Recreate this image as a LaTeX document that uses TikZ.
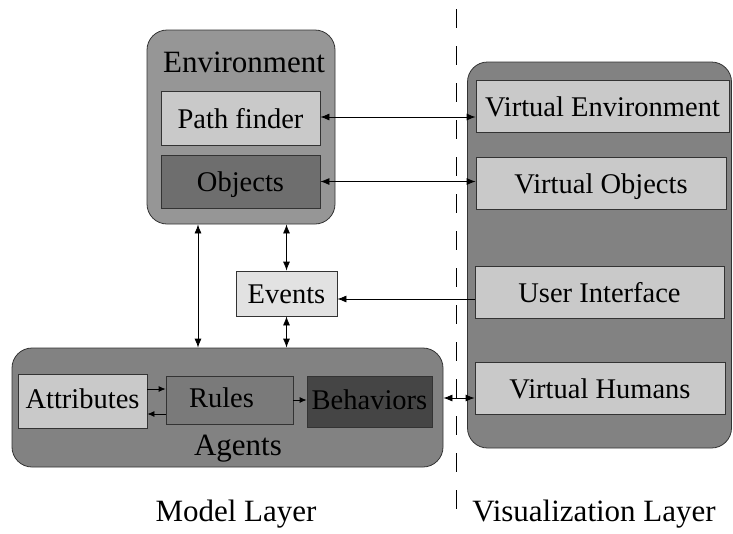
\documentclass[tikz,border=0pt]{standalone}
\usepackage{fontspec}
\setmainfont{Liberation Serif}
\usetikzlibrary{arrows.meta}
\definecolor{envgray}{HTML}{969696}
\definecolor{outgray}{HTML}{828282}
\definecolor{lightbox}{HTML}{C9C9C9}
\definecolor{objgray}{HTML}{6E6E6E}
\definecolor{rulegray}{HTML}{7A7A7A}
\definecolor{behgray}{HTML}{454545}
\definecolor{evgray}{HTML}{E2E2E2}
\definecolor{edgegray}{HTML}{333333}
\tikzset{
  outbox/.style={draw=edgegray, line width=0.8pt, rounded corners=20pt, inner sep=0pt},
  inbox/.style={draw=edgegray, line width=0.8pt, inner sep=0pt, text height=20pt, text depth=0pt, font=\fontsize{28.5}{34}\selectfont},
  agbox/.style={inbox, text height=15pt},
  biglabel/.style={inner sep=0pt, anchor=base, font=\fontsize{31}{36}\selectfont},
  conn/.style={line width=0.8pt, {Latex[length=9pt,width=7pt]}-{Latex[length=9pt,width=7pt]}},
  oneway/.style={line width=0.8pt, -{Latex[length=9pt,width=7pt]}},
  smallway/.style={line width=0.8pt, -{Latex[length=7pt,width=6pt]}},
}
\begin{document}
\begin{tikzpicture}[x=1pt,y=-1pt]
\useasboundingbox (0,0) rectangle (733,533);
% separator
\draw[line width=0.8pt, dash pattern=on 19pt off 18pt] (456,9) -- (456,520);
% environment
\node[outbox, fill=envgray, minimum width=188pt, minimum height=194pt] (env) at (241,127) {};
\node[biglabel] (envlabel) at (244,72) {Environment};
\node[inbox, fill=lightbox, minimum width=159pt, minimum height=54pt] (pf) at (240.5,118) {Path finder};
\node[inbox, fill=objgray, minimum width=159pt, minimum height=53pt] (obj) at (240.5,181.5) {Objects};
% visualization
\node[outbox, fill=outgray, minimum width=264pt, minimum height=386pt] (vis) at (599.5,255) {};
\node[inbox, fill=lightbox, minimum width=253pt, minimum height=52pt] (ve) at (602.5,106) {Virtual Environment};
\node[inbox, fill=lightbox, minimum width=250pt, minimum height=52pt] (vo) at (601,183) {Virtual Objects};
\node[inbox, fill=lightbox, minimum width=249pt, minimum height=52pt] (ui) at (599.5,292) {User Interface};
\node[inbox, fill=lightbox, minimum width=250pt, minimum height=52pt] (vh) at (600,388) {Virtual Humans};
% events
\node[inbox, fill=evgray, minimum width=101pt, minimum height=45pt] (ev) at (286.5,293.5) {Events};
% agents
\node[outbox, fill=outgray, minimum width=431pt, minimum height=119pt] (ag) at (227.5,407.5) {};
\node[biglabel] (aglabel) at (238,455) {Agents};
\node[agbox, fill=lightbox, minimum width=129pt, minimum height=54pt] (attr) at (82.5,401) {Attributes};
\node[agbox, fill=rulegray, minimum width=127pt, minimum height=48pt] (rules) at (229.5,400) {\hspace*{-16pt}Rules};
\node[agbox, fill=behgray, minimum width=125pt, minimum height=51pt] (beh) at (369.5,401.5) {Behaviors};
% layer labels
\node[biglabel] (mlabel) at (236,521) {Model Layer};
\node[biglabel] (vlabel) at (594,521) {Visualization Layer};
% helper coordinates
\coordinate (cx) at (198,0);
\coordinate (ypf) at (0,117);
\coordinate (yui) at (0,299);
\coordinate (ya) at (0,389);
\coordinate (yb) at (0,414);
\coordinate (yh) at (0,398);
% connectors
\draw[conn] (pf.east |- ypf) -- (ypf -| ve.west);
\draw[conn] (obj.east) -- (obj.east -| vo.west);
\draw[conn] (cx |- env.south) -- (cx |- ag.north);
\draw[conn] (ev.north |- env.south) -- (ev.north);
\draw[conn] (ev.south) -- (ev.south |- ag.north);
\draw[oneway] (yui -| ui.west) -- (yui -| ev.east);
\draw[smallway] (ya -| attr.east) -- (ya -| rules.west);
\draw[smallway] (yb -| rules.west) -- (yb -| attr.east);
\draw[smallway] (rules.east) -- (rules.east -| beh.west);
\draw[conn] (yh -| ag.east) -- (yh -| vh.west);
\end{tikzpicture}
\end{document}
